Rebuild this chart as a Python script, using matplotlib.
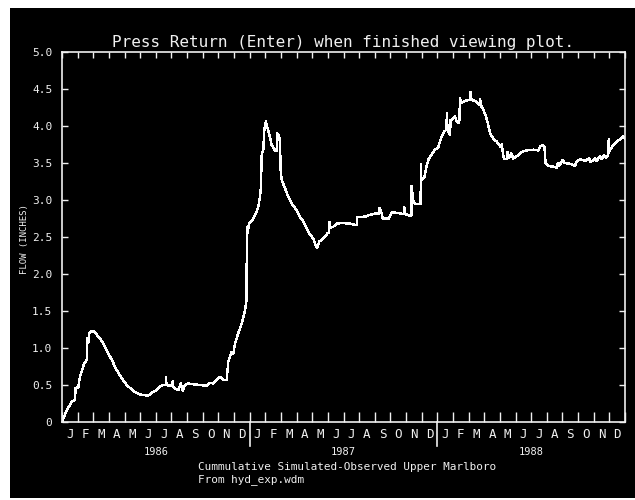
import matplotlib.pyplot as plt
from matplotlib.patches import Rectangle
import matplotlib.transforms as mtransforms

# months counted from 1 Jan 1986, cumulative sim - obs flow
months = [0.00, 0.30, 0.62, 0.83, 0.87, 1.04, 1.15, 1.26, 1.41, 1.58, 1.62, 1.68, 1.75, 1.90,
          2.05, 2.22, 2.43, 2.64, 2.86, 3.18, 3.50, 3.82, 4.14, 4.56, 4.99, 5.31, 5.45, 5.63,
          5.84, 6.05, 6.27, 6.48, 6.63, 6.65, 6.68, 6.90, 7.05, 7.08, 7.12, 7.22, 7.44, 7.59,
          7.72, 7.86, 8.08, 8.40, 8.82, 9.25, 9.46, 9.68, 9.89, 10.10, 10.31, 10.53, 10.63,
          10.85, 10.95, 11.06, 11.27, 11.49, 11.70, 11.76, 11.80, 11.82, 11.87, 11.95, 12.24,
          12.45, 12.55, 12.66, 12.72, 12.77, 12.87, 12.94, 13.04, 13.12, 13.26, 13.41, 13.62,
          13.72, 13.77, 13.87, 13.94, 13.98, 14.05, 14.26, 14.47, 14.69, 14.90, 15.11, 15.22,
          15.43, 15.65, 15.86, 16.07, 16.24, 16.32, 16.45, 16.60, 16.82, 16.97, 17.08, 17.10,
          17.13, 17.35, 17.56, 17.88, 18.41, 18.80, 18.85, 18.88, 19.16, 19.48, 19.69, 19.90,
          20.12, 20.27, 20.29, 20.40, 20.50, 20.54, 20.90, 21.08, 21.29, 21.61, 21.85, 21.88,
          21.93, 22.14, 22.29, 22.34, 22.36, 22.45, 22.57, 22.89, 22.93, 22.95, 22.98, 23.18,
          23.28, 23.45, 23.66, 23.85, 24.06, 24.17, 24.28, 24.42, 24.58, 24.61, 24.65, 24.81,
          24.85, 25.02, 25.13, 25.24, 25.40, 25.45, 25.55, 25.77, 25.98, 26.10, 26.13, 26.18,
          26.41, 26.70, 26.73, 26.78, 26.94, 27.11, 27.26, 27.37, 27.58, 27.79, 28.00, 28.10,
          28.12, 28.20, 28.26, 28.43, 28.50, 28.55, 28.64, 28.72, 28.86, 29.07, 29.39, 29.71,
          30.13, 30.45, 30.60, 30.77, 30.85, 30.92, 31.10, 31.41, 31.63, 31.70, 31.78, 32.01,
          32.15, 32.48, 32.80, 32.91, 33.12, 33.44, 33.72, 33.80, 34.08, 34.18, 34.40, 34.50,
          34.66, 34.78, 34.93, 34.96, 35.00, 35.04, 35.25, 35.47, 35.68, 35.85, 36.00]
flow = [0.00, 0.16, 0.27, 0.30, 0.46, 0.47, 0.61, 0.68, 0.79, 0.84, 1.13, 1.07, 1.20, 1.23,
        1.22, 1.18, 1.13, 1.06, 0.97, 0.84, 0.70, 0.59, 0.50, 0.42, 0.37, 0.365, 0.35, 0.37,
        0.41, 0.43, 0.48, 0.50, 0.50, 0.61, 0.50, 0.49, 0.50, 0.55, 0.47, 0.455, 0.43, 0.52,
        0.42, 0.50, 0.52, 0.51, 0.50, 0.49, 0.53, 0.52, 0.57, 0.61, 0.57, 0.57, 0.81,
        0.95, 0.92, 1.06, 1.20, 1.33, 1.51, 1.60, 1.65, 2.64, 2.55, 2.68, 2.75,
        2.84, 2.91, 3.04, 3.18, 3.61, 3.68, 3.95, 4.06, 3.99, 3.88, 3.74, 3.67,
        3.66, 3.90, 3.88, 3.77, 3.41, 3.27, 3.16, 3.04, 2.95, 2.89, 2.82, 2.77,
        2.71, 2.62, 2.53, 2.48, 2.37, 2.35, 2.44, 2.46, 2.50, 2.55, 2.55, 2.70,
        2.62, 2.64, 2.68, 2.69, 2.68, 2.66, 2.66, 2.77, 2.77, 2.78, 2.80, 2.81,
        2.82, 2.82, 2.89, 2.85, 2.76, 2.75, 2.75, 2.83, 2.83, 2.82, 2.81, 2.91,
        2.81, 2.80, 2.78, 2.79, 3.19, 3.00, 2.95, 2.95, 2.95, 3.49, 3.27, 3.31,
        3.43, 3.56, 3.62, 3.68, 3.71, 3.79, 3.86, 3.92, 3.95, 4.17, 3.95, 3.88,
        4.08, 4.10, 4.13, 4.06, 4.04, 4.37, 4.31, 4.34, 4.35, 4.35, 4.46, 4.35,
        4.34, 4.28, 4.37, 4.28, 4.22, 4.13, 4.01, 3.90, 3.83, 3.79, 3.73, 3.71,
        3.76, 3.62, 3.56, 3.55, 3.65, 3.57, 3.59, 3.63, 3.56, 3.59, 3.65, 3.67,
        3.68, 3.67, 3.73, 3.74, 3.72, 3.50, 3.46, 3.45, 3.44, 3.50, 3.46, 3.54,
        3.50, 3.49, 3.46, 3.52, 3.55, 3.53, 3.56, 3.51, 3.56, 3.53, 3.59, 3.55,
        3.61, 3.57, 3.61, 3.82, 3.66, 3.68, 3.74, 3.79, 3.82, 3.86, 3.83]

month_letters = ['J', 'F', 'M', 'A', 'M', 'J', 'J', 'A', 'S', 'O', 'N', 'D'] * 3
years = ['1986', '1987', '1988']
yticks = [0, 0.5, 1.0, 1.5, 2.0, 2.5, 3.0, 3.5, 4.0, 4.5, 5.0]
ytick_labels = ['0', '0.5', '1.0', '1.5', '2.0', '2.5', '3.0', '3.5', '4.0', '4.5', '5.0']

fg = '#f0f0f0'
mono = 'DejaVu Sans Mono'

fig = plt.figure(figsize=(6.35, 5.0), dpi=100, facecolor='white')
# black screen area, kept behind the axes
fig.patches.append(Rectangle((10 / 635, 2 / 500), 625 / 635, 490 / 500,
                             transform=fig.transFigure, facecolor='black',
                             edgecolor='none', zorder=-10))

ax = fig.add_axes([62 / 635, 78 / 500, 563 / 635, 370 / 500])
ax.set_facecolor('black')
ax.plot(months, flow, color='white', lw=1.0, antialiased=False)

ax.set_xlim(0, 36)
ax.set_ylim(0, 5.0)
for s in ax.spines.values():
    s.set_color(fg)
    s.set_linewidth(1.2)

# month boundary ticks, letters centred in each month
ax.set_xticks(range(37))
ax.set_xticklabels([])
ax.set_xticks([i + 0.5 for i in range(36)], minor=True)
ax.set_xticklabels(month_letters, minor=True, fontsize=9, family=mono, color=fg)
ax.tick_params(axis='x', which='major', direction='in', length=7, width=1, color=fg)
ax.tick_params(axis='x', which='minor', length=0, pad=4)

ax.set_yticks(yticks)
ax.set_yticklabels(ytick_labels, fontsize=8, family=mono, color=fg)
ax.tick_params(axis='y', direction='in', length=4, width=1, color=fg, right=True, pad=7)

top = ax.secondary_xaxis('top')
top.set_xticks(range(37))
top.set_xticklabels([])
top.tick_params(direction='in', length=4, width=1, color=fg)
top.spines['top'].set_visible(False)

# year separators below the axis
trans = mtransforms.blended_transform_factory(ax.transData, ax.transAxes)
for xv in [12, 24]:
    ax.plot([xv, xv], [0, -0.065], color=fg, lw=1.2, transform=trans, clip_on=False)
for i, yr in enumerate(years):
    ax.text(6 + 12 * i, -0.08, yr, transform=trans, ha='center', va='center',
            fontsize=7.5, family=mono, color=fg)

ax.text(-0.066, 0.495, 'FLOW (INCHES)', transform=ax.transAxes, rotation=90,
        ha='center', va='center', fontsize=6.5, family=mono, color=fg)

fig.text(343 / 635, 1 - 43 / 500, 'Press Return (Enter) when finished viewing plot.',
         ha='center', va='center', fontsize=11.5, family=mono, color=fg)
fig.text(198 / 635, 1 - 467 / 500, 'Cummulative Simulated-Observed Upper Marlboro',
         ha='left', va='center', fontsize=7.9, family=mono, color=fg)
fig.text(198 / 635, 1 - 480 / 500, 'From hyd_exp.wdm',
         ha='left', va='center', fontsize=7.9, family=mono, color=fg)

fig.savefig('out.png', dpi=100, facecolor='white')
